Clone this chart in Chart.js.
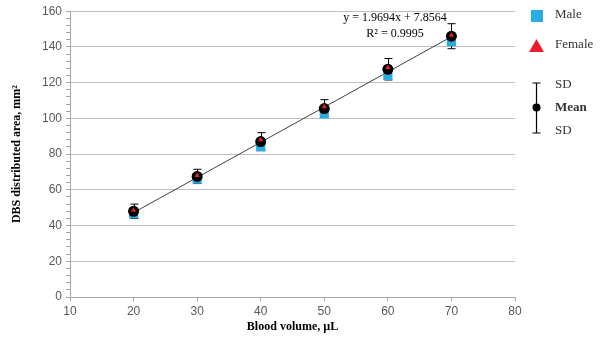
<!DOCTYPE html>
<html>
<head>
<meta charset="utf-8">
<script src="https://cdn.jsdelivr.net/npm/chart.js@4.4.1/dist/chart.umd.min.js"></script>
<style>
  html, body { margin: 0; padding: 0; background: #fff; }
  #wrap { width: 615px; height: 337px; position: relative; }
</style>
</head>
<body>
<div id="wrap"><canvas id="grafico"></canvas></div>
<script>
// volumen de sangre (µL)
const volumen = [20, 30, 40, 50, 60, 70];
// medias y desviación estándar
const media = [48, 67.5, 87, 105.5, 127.5, 146];
const sd = [4, 4, 5, 5, 6, 7];
const masculino = [46.5, 66, 84, 102.5, 124, 143];
const femenino = [48.5, 68, 88, 106.5, 128.5, 146.5];
// recta de regresión del gráfico
const pendiente = 1.9694;
const intercepto = 7.8564;
const r2 = "0.9995";
const xTicks = [10, 20, 30, 40, 50, 60, 70, 80];
const yMax = 160;

const serif = "'Liberation Serif', 'Times New Roman', serif";
const azul = "#2AACE2";
const rojo = "#E5202A";

const pts = (ys) => volumen.map((v, i) => ({ x: v, y: ys[i] }));
const recta = [volumen[0], volumen[volumen.length - 1]].map(v => ({ x: v, y: pendiente * v + intercepto }));

// barras de error detrás de los puntos
const barrasError = {
  id: "barrasError",
  beforeDatasetsDraw(chart) {
    const { ctx, scales: { x, y } } = chart;
    ctx.save();
    ctx.strokeStyle = "#000";
    ctx.lineWidth = 1;
    volumen.forEach((v, i) => {
      const px = Math.round(x.getPixelForValue(v)) + 0.5;
      const top = y.getPixelForValue(media[i] + sd[i]);
      const bot = y.getPixelForValue(media[i] - sd[i]);
      ctx.beginPath();
      ctx.moveTo(px, top); ctx.lineTo(px, bot);
      ctx.moveTo(px - 4, top); ctx.lineTo(px + 4, top);
      ctx.moveTo(px - 4, bot); ctx.lineTo(px + 4, bot);
      ctx.stroke();
    });
    ctx.restore();
  }
};

// leyenda y ecuación
const extras = {
  id: "extras",
  afterDraw(chart) {
    const ctx = chart.ctx;
    ctx.save();
    ctx.fillStyle = "#000";
    ctx.textAlign = "center";
    ctx.textBaseline = "middle";
    ctx.font = "12px " + serif;
    ctx.fillText("y = " + pendiente + "x + " + intercepto, 395, 18);
    ctx.fillText("R² = " + r2, 395, 34);

    // Male
    ctx.fillStyle = azul;
    ctx.fillRect(531, 10, 12, 12);
    // Female
    ctx.fillStyle = rojo;
    ctx.beginPath();
    ctx.moveTo(536.5, 39); ctx.lineTo(544, 52); ctx.lineTo(529, 52); ctx.closePath();
    ctx.fill();
    // SD / Mean
    ctx.strokeStyle = "#000";
    ctx.lineWidth = 1.2;
    ctx.beginPath();
    ctx.moveTo(536.5, 83); ctx.lineTo(536.5, 133);
    ctx.moveTo(532.5, 83); ctx.lineTo(540.5, 83);
    ctx.moveTo(532.5, 133); ctx.lineTo(540.5, 133);
    ctx.stroke();
    ctx.fillStyle = "#000";
    ctx.beginPath();
    ctx.arc(536.5, 107.5, 4, 0, Math.PI * 2);
    ctx.fill();

    ctx.textAlign = "left";
    ctx.fillStyle = "#333";
    ctx.font = "13px " + serif;
    ctx.fillText("Male", 555, 15);
    ctx.fillText("Female", 555, 45);
    ctx.fillText("SD", 555, 85);
    ctx.fillText("SD", 555, 131);
    ctx.font = "bold 13px " + serif;
    ctx.fillText("Mean", 555, 108);
    ctx.restore();
  }
};

new Chart(document.getElementById("grafico"), {
  type: "scatter",
  data: {
    datasets: [
      {
        label: "Female",
        data: pts(femenino),
        pointStyle: "triangle",
        pointRadius: 3,
        backgroundColor: rojo,
        borderColor: rojo,
        borderWidth: 0,
        order: 0
      },
      {
        label: "Mean",
        data: pts(media),
        pointStyle: "circle",
        pointRadius: 5.5,
        backgroundColor: "#000",
        borderColor: "#000",
        borderWidth: 0,
        order: 1
      },
      {
        label: "Male",
        data: pts(masculino),
        pointStyle: "rect",
        pointRadius: 6.5,
        backgroundColor: azul,
        borderColor: azul,
        borderWidth: 0,
        order: 2
      },
      {
        label: "Tendencia",
        data: recta,
        showLine: true,
        pointRadius: 0,
        borderColor: "#404040",
        borderWidth: 1,
        order: 3
      }
    ]
  },
  options: {
    responsive: true,
    maintainAspectRatio: false,
    animation: false,
    layout: { padding: { top: 11, right: 100, bottom: 2, left: 0 } },
    plugins: {
      legend: { display: false },
      tooltip: { enabled: false }
    },
    scales: {
      x: {
        type: "linear",
        min: xTicks[0],
        max: xTicks[xTicks.length - 1],
        afterBuildTicks: (s) => { s.ticks = xTicks.map(v => ({ value: v })); },
        afterFit: (s) => { s.height = 38; },
        grid: { display: true, drawOnChartArea: false, color: "#A6A6A6", tickLength: 4 },
        border: { color: "#A6A6A6" },
        ticks: { color: "#595959", font: { family: "'Liberation Sans', Arial, sans-serif", size: 12 }, padding: 3, maxRotation: 0 },
        title: {
          display: true,
          text: "Blood volume, µL",
          color: "#000",
          font: { family: serif, size: 12, weight: "bold" },
          padding: { top: 0, bottom: 1 }
        }
      },
      y: {
        min: 0,
        max: yMax,
        afterFit: (s) => { s.width = 70; },
        ticks: {
          stepSize: 4,
          autoSkip: false,
          color: "#595959",
          font: { family: "'Liberation Sans', Arial, sans-serif", size: 12 },
          padding: 4,
          callback: (v) => (v % 20 === 0 ? v : "")
        },
        grid: {
          color: (c) => (c.tick && c.tick.value % 20 === 0 ? "#BFBFBF" : "rgba(0,0,0,0)"),
          tickColor: "#A6A6A6",
          tickLength: 4,
          lineWidth: 1
        },
        border: { color: "#A6A6A6" },
        title: {
          display: true,
          text: "DBS distributed area, mm²",
          color: "#000",
          font: { family: serif, size: 12, weight: "bold" },
          padding: { top: 10, bottom: 0 }
        }
      }
    }
  },
  plugins: [barrasError, extras]
});
</script>
</body>
</html>
